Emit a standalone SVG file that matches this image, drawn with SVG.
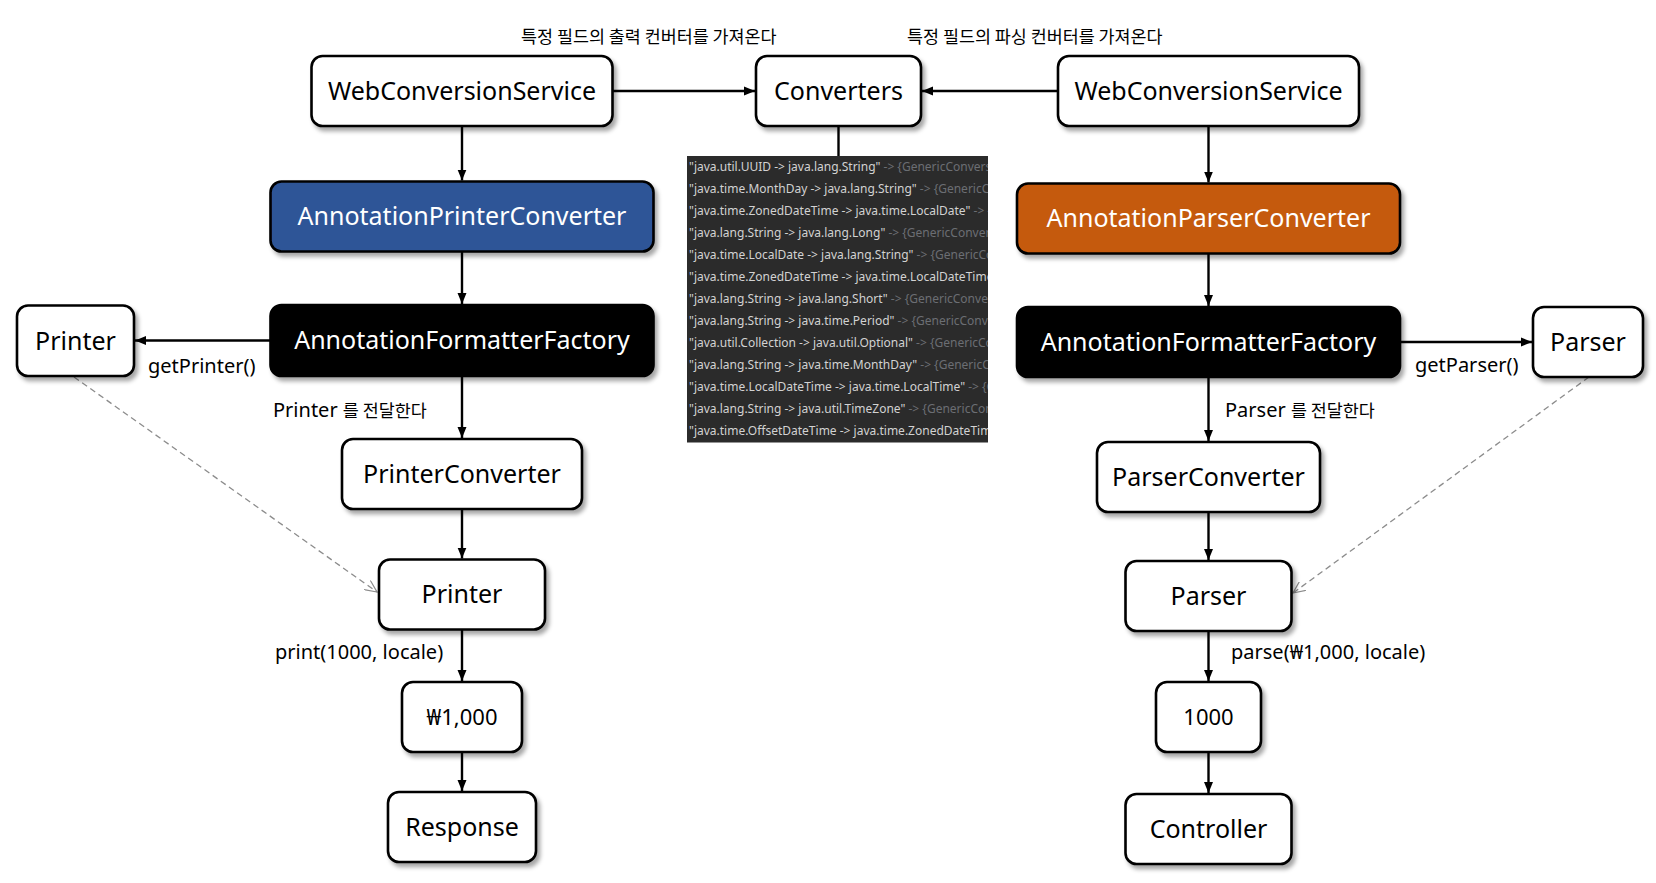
<svg xmlns="http://www.w3.org/2000/svg" width="1656" height="883" viewBox="0 0 1656 883">
<defs>
<style>
.box{fill:#fff;stroke:#000;stroke-width:2.6;filter:url(#sh)}
.blue{fill:#2F5597}
.orange{fill:#C55A11}
.black{fill:#000}
.nt{font-family:"Noto Sans","Open Sans",sans-serif;font-size:25px;text-anchor:middle;fill:#000}
.nw{fill:#fff}
.sm{font-size:22px}
.lbl{font-family:"Noto Sans","Noto Sans CJK KR",sans-serif;font-size:20px;fill:#000}
.ko{font-family:"Noto Sans CJK KR","Noto Sans",sans-serif;font-size:17.4px;fill:#000}
.edge{stroke:#000;stroke-width:2.4;fill:none;marker-end:url(#ah)}
.dash{stroke:#8c8c8c;stroke-width:1.3;stroke-dasharray:6 4;fill:none;marker-end:url(#oh)}
.code{font-family:"Noto Sans","Open Sans",sans-serif;font-size:12px;fill:#d2d2d2}
.dim{fill:#6b6e73}
</style>
<filter id="sh" x="-20%" y="-20%" width="140%" height="150%">
<feDropShadow dx="3" dy="4" stdDeviation="2.2" flood-color="#000" flood-opacity="0.35"/>
</filter>
<marker id="ah" markerUnits="userSpaceOnUse" markerWidth="12" markerHeight="10" refX="11" refY="5" orient="auto">
<path d="M0,0.5 L11,5 L0,9.5 z" fill="#000"/>
</marker>
<marker id="oh" markerUnits="userSpaceOnUse" markerWidth="14" markerHeight="12" refX="12" refY="6" orient="auto">
<path d="M0,0.5 L12,6 L0,11.5" fill="none" stroke="#8c8c8c" stroke-width="1.2"/>
</marker>
<clipPath id="pc"><rect x="687" y="156" width="301" height="286"/></clipPath>
</defs>

<g id="labels">
<text class="ko" x="521" y="42.5">특정 필드의 출력 컨버터를 가져온다</text>
<text class="ko" x="907" y="42.5">특정 필드의 파싱 컨버터를 가져온다</text>
<text class="lbl" x="148" y="373">getPrinter()</text>
<text class="lbl" x="1415" y="372">getParser()</text>
<text class="lbl" x="273" y="417">Printer <tspan class="ko">를 전달한다</tspan></text>
<text class="lbl" x="1225" y="417">Parser <tspan class="ko">를 전달한다</tspan></text>
<text class="lbl" x="275" y="659">print(1000, locale)</text>
<text class="lbl" x="1231" y="659">parse(₩1,000, locale)</text>
</g>

<g id="connectors">
<line class="edge" x1="612.5" y1="91" x2="755" y2="91"/>
<line class="edge" x1="1058" y1="91" x2="922" y2="91"/>
<line x1="838.5" y1="126" x2="838.5" y2="156" stroke="#000" stroke-width="2.4"/>
<line class="edge" x1="462" y1="126" x2="462" y2="180.5"/>
<line class="edge" x1="462" y1="251.5" x2="462" y2="304"/>
<line class="edge" x1="462" y1="376" x2="462" y2="438"/>
<line class="edge" x1="462" y1="509" x2="462" y2="558.5"/>
<line class="edge" x1="462" y1="629.5" x2="462" y2="681"/>
<line class="edge" x1="462" y1="752" x2="462" y2="791"/>
<line class="edge" x1="1208.5" y1="126" x2="1208.5" y2="182.5"/>
<line class="edge" x1="1208.5" y1="253.5" x2="1208.5" y2="306"/>
<line class="edge" x1="1208.5" y1="377" x2="1208.5" y2="441"/>
<line class="edge" x1="1208.5" y1="512" x2="1208.5" y2="560"/>
<line class="edge" x1="1208.5" y1="631" x2="1208.5" y2="681"/>
<line class="edge" x1="1208.5" y1="752" x2="1208.5" y2="793"/>
<line class="edge" x1="270.5" y1="340.5" x2="135" y2="340.5"/>
<line class="edge" x1="1400" y1="342" x2="1532" y2="342"/>
<path class="dash" d="M74,377 L377,592"/>
<path class="dash" d="M1589,377 L1293,593"/>
</g>

<g id="code-panel">
<rect x="687" y="156" width="301" height="286.5" fill="#2b2b2b"/>
<g clip-path="url(#pc)">
<text class="code" x="689" y="171">"java.util.UUID -&gt; java.lang.String"<tspan class="dim"> -&gt; {GenericConversi</tspan></text>
<text class="code" x="689" y="193">"java.time.MonthDay -&gt; java.lang.String"<tspan class="dim"> -&gt; {GenericCo</tspan></text>
<text class="code" x="689" y="215">"java.time.ZonedDateTime -&gt; java.time.LocalDate"<tspan class="dim"> -&gt; {</tspan></text>
<text class="code" x="689" y="237">"java.lang.String -&gt; java.lang.Long"<tspan class="dim"> -&gt; {GenericConvers</tspan></text>
<text class="code" x="689" y="259">"java.time.LocalDate -&gt; java.lang.String"<tspan class="dim"> -&gt; {GenericCo</tspan></text>
<text class="code" x="689" y="281">"java.time.ZonedDateTime -&gt; java.time.LocalDateTime"</text>
<text class="code" x="689" y="303">"java.lang.String -&gt; java.lang.Short"<tspan class="dim"> -&gt; {GenericConver</tspan></text>
<text class="code" x="689" y="325">"java.lang.String -&gt; java.time.Period"<tspan class="dim"> -&gt; {GenericConve</tspan></text>
<text class="code" x="689" y="347">"java.util.Collection -&gt; java.util.Optional"<tspan class="dim"> -&gt; {GenericCo</tspan></text>
<text class="code" x="689" y="369">"java.lang.String -&gt; java.time.MonthDay"<tspan class="dim"> -&gt; {GenericCo</tspan></text>
<text class="code" x="689" y="391">"java.time.LocalDateTime -&gt; java.time.LocalTime"<tspan class="dim"> -&gt; {G</tspan></text>
<text class="code" x="689" y="413">"java.lang.String -&gt; java.util.TimeZone"<tspan class="dim"> -&gt; {GenericCon</tspan></text>
<text class="code" x="689" y="435">"java.time.OffsetDateTime -&gt; java.time.ZonedDateTime</text>
</g>
</g>

<g id="wcs-left"><rect class="box" x="311.5" y="56" width="301" height="70" rx="11"/><text class="nt" x="462" y="99.5">WebConversionService</text></g>
<g id="converters"><rect class="box" x="756" y="56" width="165" height="70" rx="11"/><text class="nt" x="838.5" y="99.5">Converters</text></g>
<g id="wcs-right"><rect class="box" x="1058" y="56" width="301" height="70" rx="11"/><text class="nt" x="1208.5" y="99.5">WebConversionService</text></g>
<g id="annotation-printer-converter"><rect class="box blue" x="270.5" y="181.5" width="383" height="70" rx="11"/><text class="nt nw" x="462" y="225">AnnotationPrinterConverter</text></g>
<g id="annotation-parser-converter"><rect class="box orange" x="1017" y="183.5" width="383" height="70" rx="11"/><text class="nt nw" x="1208.5" y="227">AnnotationParserConverter</text></g>
<g id="aff-left"><rect class="box black" x="270.5" y="305" width="383" height="71" rx="11"/><text class="nt nw" x="462" y="349">AnnotationFormatterFactory</text></g>
<g id="printer-left"><rect class="box" x="17" y="305.5" width="117" height="70.5" rx="11"/><text class="nt" x="75.5" y="349.5">Printer</text></g>
<g id="aff-right"><rect class="box black" x="1017" y="307" width="383" height="70" rx="11"/><text class="nt nw" x="1208.5" y="350.5">AnnotationFormatterFactory</text></g>
<g id="parser-right"><rect class="box" x="1533" y="307" width="110" height="70" rx="11"/><text class="nt" x="1588" y="350.5">Parser</text></g>
<g id="printer-converter"><rect class="box" x="342" y="439" width="240" height="70" rx="11"/><text class="nt" x="462" y="482.5">PrinterConverter</text></g>
<g id="parser-converter"><rect class="box" x="1097" y="442" width="223" height="70" rx="11"/><text class="nt" x="1208.5" y="485.5">ParserConverter</text></g>
<g id="printer"><rect class="box" x="379" y="559.5" width="166" height="70" rx="11"/><text class="nt" x="462" y="603">Printer</text></g>
<g id="parser"><rect class="box" x="1125.5" y="561" width="166" height="70" rx="11"/><text class="nt" x="1208.5" y="604.5">Parser</text></g>
<g id="won-1000"><rect class="box" x="402" y="682" width="120" height="70" rx="11"/><text class="nt sm" x="462" y="725">₩1,000</text></g>
<g id="num-1000"><rect class="box" x="1156" y="682" width="105" height="70" rx="11"/><text class="nt sm" x="1208.5" y="725">1000</text></g>
<g id="response"><rect class="box" x="388" y="792" width="148" height="70" rx="11"/><text class="nt" x="462" y="835.5">Response</text></g>
<g id="controller"><rect class="box" x="1125.5" y="794" width="166" height="70" rx="11"/><text class="nt" x="1208.5" y="837.5">Controller</text></g>
</svg>
